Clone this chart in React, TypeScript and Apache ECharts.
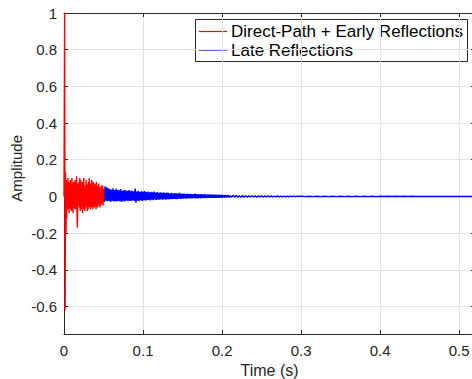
import React, { useEffect, useRef } from "react";
import * as echarts from "echarts";

// Direct path (hand-read samples)
const directTimes = [0, 0.0008, 0.0014, 0.002, 0.0026];
const directValues = [0, 1.0, -0.62, 0.13, -0.2];

// Early reflections: uniform sampling from earlyStart with earlyStep
const earlyStart = 0.003;
const earlyStep = 0.0005;
const earlyValues = [
  0.09, -0.12, 0.08, -0.07, 0.1, -0.06, 0.08, -0.09, 0.07, -0.05,
  0.09, -0.07, 0.06, -0.08, 0.1, -0.06, 0.07, -0.09, 0.08, -0.05,
  0.06, -0.07, 0.09, -0.06, 0.08, -0.07, 0.11, -0.1, -0.17, 0.06,
  0.07, -0.05, 0.08, -0.06, 0.1, -0.08, 0.09, -0.07, 0.06, -0.05,
  0.08, -0.09, 0.07, -0.06, 0.1, -0.07, 0.05, -0.08, 0.06, -0.06,
  0.09, -0.05, 0.07, -0.08, 0.06, -0.07, 0.08, -0.05, 0.1, -0.06,
  0.05, -0.07, 0.07, -0.06, 0.09, -0.05, 0.06, -0.07, 0.08, -0.06,
  0.05, -0.06, 0.07, -0.05, 0.06, -0.07, 0.08, -0.05, 0.05, -0.06,
  0.06, -0.04, 0.07, -0.05, 0.05, -0.06, 0.04, -0.05, 0.06, -0.04,
  0.05, -0.04, 0.06, -0.05, 0.04,
];

// Late reflections, sampled stretches
const late1Start = 0.05;
const late1Step = 0.001;
const late1Values = [
  0.04, -0.03, 0.055, -0.025, 0.05, -0.026, 0.045, -0.024, 0.04, -0.03,
  0.038, -0.025, 0.045, -0.028, 0.035, -0.026, 0.042, -0.027, 0.036, -0.025,
  0.034, -0.027, 0.04, -0.03, 0.03, -0.024, 0.036, -0.028, 0.033, -0.022,
  0.03, -0.026, 0.035, -0.023, 0.029, -0.025, 0.032, -0.022, 0.028, -0.024,
  0.043, -0.034, 0.027, -0.023, 0.03, -0.026, 0.025, -0.021, 0.028, -0.024,
  0.026, -0.02, 0.029, -0.022, 0.024, -0.021, 0.027, -0.019, 0.023, -0.022,
  0.025, -0.018, 0.022, -0.02, 0.026, -0.017, 0.021, -0.019, 0.024, -0.018,
  0.02, -0.017, 0.023, -0.016, 0.019, -0.018, 0.022, -0.015, 0.018, -0.017,
  0.021, -0.015, 0.019, -0.016, 0.017, -0.014, 0.02, -0.015, 0.016, -0.014,
  0.018, -0.013, 0.017, -0.015, 0.016, -0.012, 0.019, -0.013, 0.015, -0.012,
];
const late2Start = 0.15;
const late2Step = 0.001;
const late2Values = [
  0.014, -0.012, 0.016, -0.011, 0.013, -0.012, 0.015, -0.01, 0.012, -0.011,
  0.014, -0.01, 0.012, -0.011, 0.013, -0.009, 0.015, -0.01, 0.011, -0.01,
  0.012, -0.009, 0.011, -0.01, 0.013, -0.008, 0.01, -0.009, 0.012, -0.008,
  0.01, -0.009, 0.011, -0.008, 0.009, -0.008, 0.011, -0.007, 0.009, -0.008,
  0.01, -0.007, 0.009, -0.007, 0.008, -0.007, 0.009, -0.006, 0.008, -0.007,
  0.008, -0.006, 0.007, -0.006, 0.008, -0.006, 0.007, -0.005, 0.007, -0.006,
];
const late3Start = 0.21;
const late3Step = 0.002;
const late3Values = [
  0.005, -0.005, 0.006, -0.004, 0.005, -0.005, 0.004, -0.004, 0.005, -0.004,
  0.004, -0.004, 0.004, -0.003, 0.004, -0.003, 0.003, -0.004, 0.004, -0.003,
  0.003, -0.003, 0.003, -0.003, 0.003, -0.002, 0.003, -0.003, 0.002, -0.002,
  0.003, -0.002, 0.002, -0.002, 0.002, -0.002, 0.002, -0.002, 0.002, -0.001,
  0.002, -0.001, 0.002, -0.001, 0.001,
];
const late4Start = 0.3;
const late4Step = 0.005;
const late4Values = [
  0.001, -0.001, 0.001, -0.001, 0.001, -0.001, 0.001, -0.001, 0.001, -0.001,
  0.0008, -0.0008, 0.0008, -0.0008, 0.0008, -0.0008, 0.0008, -0.0008, 0.0008, -0.0008,
  0.0006, -0.0006, 0.0006, -0.0006, 0.0006, -0.0006, 0.0006, -0.0006, 0.0006, -0.0006,
  0.0005, -0.0005, 0.0005, -0.0005, 0.0005, -0.0005, 0.0005, -0.0005, 0.0005, -0.0005,
  0.0004, -0.0004, 0.0004, -0.0004, 0.0004,
];

const xTickLabels = ["0", "0.1", "0.2", "0.3", "0.4", "0.5"];
const yTickValues = [-0.6, -0.4, -0.2, 0, 0.2, 0.4, 0.6, 0.8, 1];
const seriesNames = ["Direct-Path + Early Reflections", "Late Reflections"];

function sampled(start: number, step: number, vals: number[]) {
  return vals.map((v, i) => [+(start + i * step).toFixed(5), v]);
}

const FONT = "'Liberation Sans', Arial, Helvetica, sans-serif";
const AX = "#262626";
const GRIDC = "#e3e3e3";

export default function App() {
  const ref = useRef<HTMLDivElement>(null);
  useEffect(() => {
    if (!ref.current) return;
    const chart = echarts.init(ref.current, undefined, { renderer: "svg" });
    const redData = [
      ...directTimes.map((t, i) => [t, directValues[i]]),
      ...sampled(earlyStart, earlyStep, earlyValues),
    ];
    const blueData = [
      ...sampled(late1Start, late1Step, late1Values),
      ...sampled(late2Start, late2Step, late2Values),
      ...sampled(late3Start, late3Step, late3Values),
      ...sampled(late4Start, late4Step, late4Values),
    ];
    const tickStyle = { inside: true, length: 4, lineStyle: { color: AX, width: 1 } };
    chart.setOption({
      animation: false,
      backgroundColor: "#ffffff",
      textStyle: { fontFamily: FONT },
      grid: {
        left: 64,
        top: 13,
        right: -3,
        bottom: 45,
        containLabel: false,
        outerBoundsMode: "none",
      },
      xAxis: [
        {
          type: "value",
          min: 0,
          max: 0.52,
          interval: 0.1,
          position: "bottom",
          name: "Time (s)",
          nameLocation: "middle",
          nameGap: 27,
          nameTextStyle: { color: AX, fontSize: 16, fontFamily: FONT },
          axisLine: { show: true, onZero: false, lineStyle: { color: AX, width: 1 } },
          axisTick: tickStyle,
          axisLabel: {
            color: AX,
            fontSize: 15,
            fontFamily: FONT,
            margin: 9,
            showMaxLabel: false,
            formatter: (v: number) => {
              const i = Math.round(v * 10);
              return xTickLabels[i] ?? "";
            },
          },
          splitLine: { show: true, lineStyle: { color: GRIDC, width: 1 } },
        },
        {
          type: "value",
          min: 0,
          max: 0.52,
          interval: 0.1,
          position: "top",
          axisLine: { show: true, onZero: false, lineStyle: { color: AX, width: 1 } },
          axisTick: tickStyle,
          axisLabel: { show: false },
          splitLine: { show: false },
        },
      ],
      yAxis: [
        {
          type: "value",
          min: -0.75,
          max: 1,
          position: "left",
          axisLine: { show: true, onZero: false, lineStyle: { color: AX, width: 1 } },
          axisTick: { ...tickStyle, customValues: yTickValues },
          axisLabel: {
            color: AX,
            fontSize: 15,
            fontFamily: FONT,
            margin: 7,
            customValues: yTickValues,
            formatter: (v: number) => String(+v.toFixed(2)),
          },
          splitLine: { show: true, lineStyle: { color: GRIDC, width: 1 } },
        },
        {
          type: "value",
          min: -0.75,
          max: 1,
          position: "right",
          axisLine: { show: true, onZero: false, lineStyle: { color: AX, width: 1 } },
          axisTick: { ...tickStyle, customValues: yTickValues },
          axisLabel: { show: false },
          splitLine: { show: false },
        },
      ],
      series: [
        {
          name: seriesNames[1],
          type: "line",
          data: blueData,
          showSymbol: false,
          symbol: "none",
          lineStyle: { color: "#0000ff", width: 1.4 },
          z: 2,
        },
        {
          name: seriesNames[0],
          type: "line",
          data: redData,
          showSymbol: false,
          symbol: "none",
          lineStyle: { color: "#ff0000", width: 1.4 },
          z: 3,
        },
      ],
      graphic: [
        {
          type: "text",
          left: 9,
          top: 135,
          rotation: Math.PI / 2,
          style: { text: "Amplitude", fill: AX, font: `15px ${FONT}` },
          silent: true,
        },
        {
          type: "group",
          left: 195,
          top: 19,
          z: 100,
          children: [
            {
              type: "rect",
              shape: { x: 0.5, y: 0.5, width: 272, height: 42 },
              style: { fill: "#ffffff", stroke: AX, lineWidth: 1 },
            },
            {
              type: "line",
              shape: { x1: 4, y1: 12.5, x2: 32, y2: 12.5 },
              style: { stroke: "#ff0000", lineWidth: 1.2 },
            },
            {
              type: "text",
              x: 36,
              y: 12.5,
              style: { text: seriesNames[0], fill: "#000000", font: `17px ${FONT}`, verticalAlign: "middle" },
            },
            {
              type: "line",
              shape: { x1: 4, y1: 31, x2: 32, y2: 31 },
              style: { stroke: "#0000ff", lineWidth: 1.2 },
            },
            {
              type: "text",
              x: 36,
              y: 31,
              style: { text: seriesNames[1], fill: "#000000", font: `17px ${FONT}`, verticalAlign: "middle" },
            },
          ],
        },
      ],
    });
    return () => chart.dispose();
  }, []);
  return (
    <div
      ref={ref}
      style={{ position: "fixed", left: 0, top: 0, width: 472, height: 379 }}
    />
  );
}
